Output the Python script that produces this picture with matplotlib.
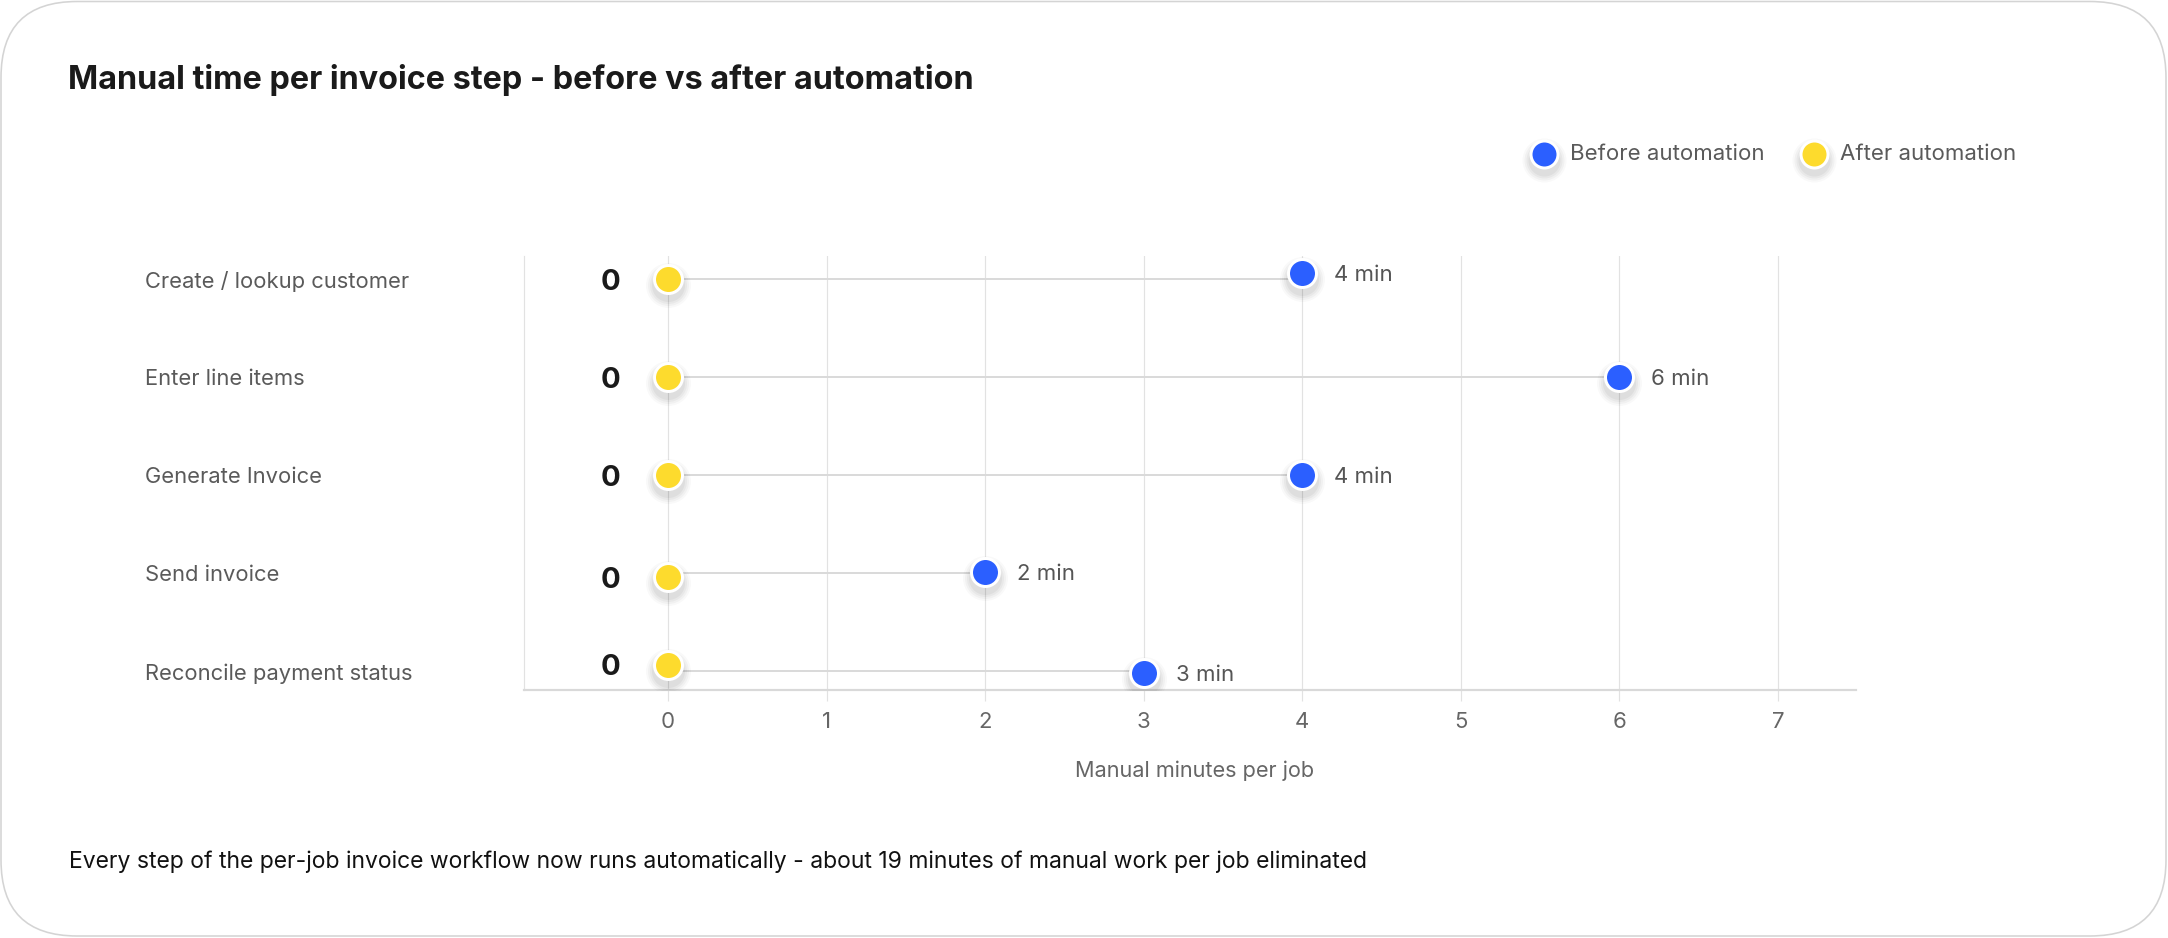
import matplotlib
matplotlib.use("Agg")
import matplotlib.pyplot as plt
from matplotlib import transforms
from matplotlib.patches import FancyBboxPatch

# ---------------- data ----------------
categories = [
    "Create / lookup customer",
    "Enter line items",
    "Generate Invoice",
    "Send invoice",
    "Reconcile payment status",
]
before_minutes = [4, 6, 4, 2, 3]
after_minutes = [0, 0, 0, 0, 0]
x_ticks = [0, 1, 2, 3, 4, 5, 6, 7]
series_names = ["Before automation", "After automation"]
title = "Manual time per invoice step - before vs after automation"
x_label = "Manual minutes per job"
footnote = ("Every step of the per-job invoice workflow now runs automatically - "
            "about 19 minutes of manual work per job eliminated")

# ---------------- style ----------------
BLUE = "#2B5FFF"
YELLOW = "#FDDB2D"
GRID = "#e2e2e2"
# small vertical nudges of the dots (style only, in row units)
before_dy = [-0.06, 0.0, 0.0, -0.01, 0.02]
after_dy = [0.0, 0.0, 0.0, 0.04, -0.07]

W, H, DPI = 2168, 938, 100
PT = 72.0 / DPI  # points per pixel

plt.rcParams["font.family"] = ["Inter", "DejaVu Sans"]

fig = plt.figure(figsize=(W / DPI, H / DPI), dpi=DPI)
fig.patch.set_facecolor("white")

# overlay axes in pixel coordinates for card + legend
lax = fig.add_axes([0, 0, 1, 1], zorder=1)
lax.set_xlim(0, W)
lax.set_ylim(H, 0)
lax.set_axis_off()
lax.patch.set_visible(False)

card = FancyBboxPatch((1, 1.5), W - 3, H - 3.5,
                      boxstyle="round,pad=0,rounding_size=76",
                      facecolor="none", edgecolor="#d4d4d4", linewidth=1.6 * PT)
lax.add_patch(card)

# main axes
ax = fig.add_axes([524 / W, 1 - 690 / H, 1332 / W, 434 / H], zorder=2)
ax.patch.set_visible(False)
ax.set_xlim(-0.908, 7.492)
ax.set_ylim(4.19, -0.238)

for s in ["top", "right"]:
    ax.spines[s].set_visible(False)
ax.spines["left"].set_color(GRID)
ax.spines["left"].set_linewidth(1.2 * PT)
ax.spines["bottom"].set_color("#d9d9d9")
ax.spines["bottom"].set_linewidth(2.2 * PT)

ax.set_xticks(x_ticks)
ax.set_xticklabels([str(t) for t in x_ticks])
ax.tick_params(axis="x", length=11 * PT, width=1.2 * PT, color=GRID,
               labelsize=16, labelcolor="#666666", pad=11 * PT)
ax.xaxis.grid(True, color=GRID, linewidth=1.2 * PT, zorder=0)
ax.set_axisbelow(True)

ax.set_yticks(range(len(categories)))
ax.set_yticklabels(categories)
ax.tick_params(axis="y", length=0, labelsize=15.8, labelcolor="#5a5a5a",
               pad=(524 - 145) * PT)
for lbl in ax.get_yticklabels():
    lbl.set_horizontalalignment("left")

ax.set_xlabel(x_label, fontsize=15.6, color="#666666", labelpad=28 * PT)
ax.xaxis.label.set_x((1195 - 524) / 1332)

DOT_S = ((25 + 3) * PT) ** 2
DOT_LW = 3 * PT


def draw_dots(axis, xs, ys, color, s=DOT_S):
    base = axis.transData
    shadow_t = base + transforms.ScaledTranslation(0, -6 / DPI, fig.dpi_scale_trans)
    outer = (s ** 0.5) / PT + 3  # px
    for grow, a in [(14, 0.025), (10, 0.03), (6, 0.035), (2, 0.04)]:
        axis.scatter(xs, ys, s=((outer + grow) * PT) ** 2, color="black",
                     alpha=a, linewidths=0, transform=shadow_t, zorder=3)
    axis.scatter(xs, ys, s=s, color=color, edgecolors="white",
                 linewidths=DOT_LW, transform=base, zorder=4)


rows = list(range(len(categories)))
# connecting lines
ax.hlines(rows, after_minutes, before_minutes, color="#dadada",
          linewidth=2 * PT, zorder=2)

ya = [r + d for r, d in zip(rows, after_dy)]
yb = [r + d for r, d in zip(rows, before_dy)]
draw_dots(ax, after_minutes, ya, YELLOW)
draw_dots(ax, before_minutes, yb, BLUE)

for v, y in zip(after_minutes, ya):
    ax.annotate(f"{v:g}", (v, y), xytext=(-57 * PT, -3 * PT),
                textcoords="offset points", ha="center", va="center",
                fontsize=21, fontweight="bold", color="#1a1a1a", zorder=5)
for v, y in zip(before_minutes, yb):
    ax.annotate(f"{v:g} min", (v, y), xytext=(32 * PT, -2 * PT),
                textcoords="offset points", ha="left", va="center",
                fontsize=16, color="#555555", zorder=5)

# legend (manual, with dot style)
leg_items = [(1543.6, 154, BLUE, series_names[0]),
             (1813.6, 154, YELLOW, series_names[1])]
for x, y, c, name in leg_items:
    draw_dots(lax, [x], [y], c, s=((24 + 3) * PT) ** 2)
    lax.text(x + 26, y + 0.5, name, fontsize=16, color="#5a5a5a",
             ha="left", va="center")

fig.text(68 / W, 1 - 80 / H, title, fontsize=23.3, fontweight="bold",
         color="#1a1a1a", ha="left", va="center")
fig.text(69 / W, 1 - 862 / H, footnote, fontsize=16.5, color="#111111",
         ha="left", va="center")

fig.savefig("out.png", dpi=DPI, facecolor="white")
